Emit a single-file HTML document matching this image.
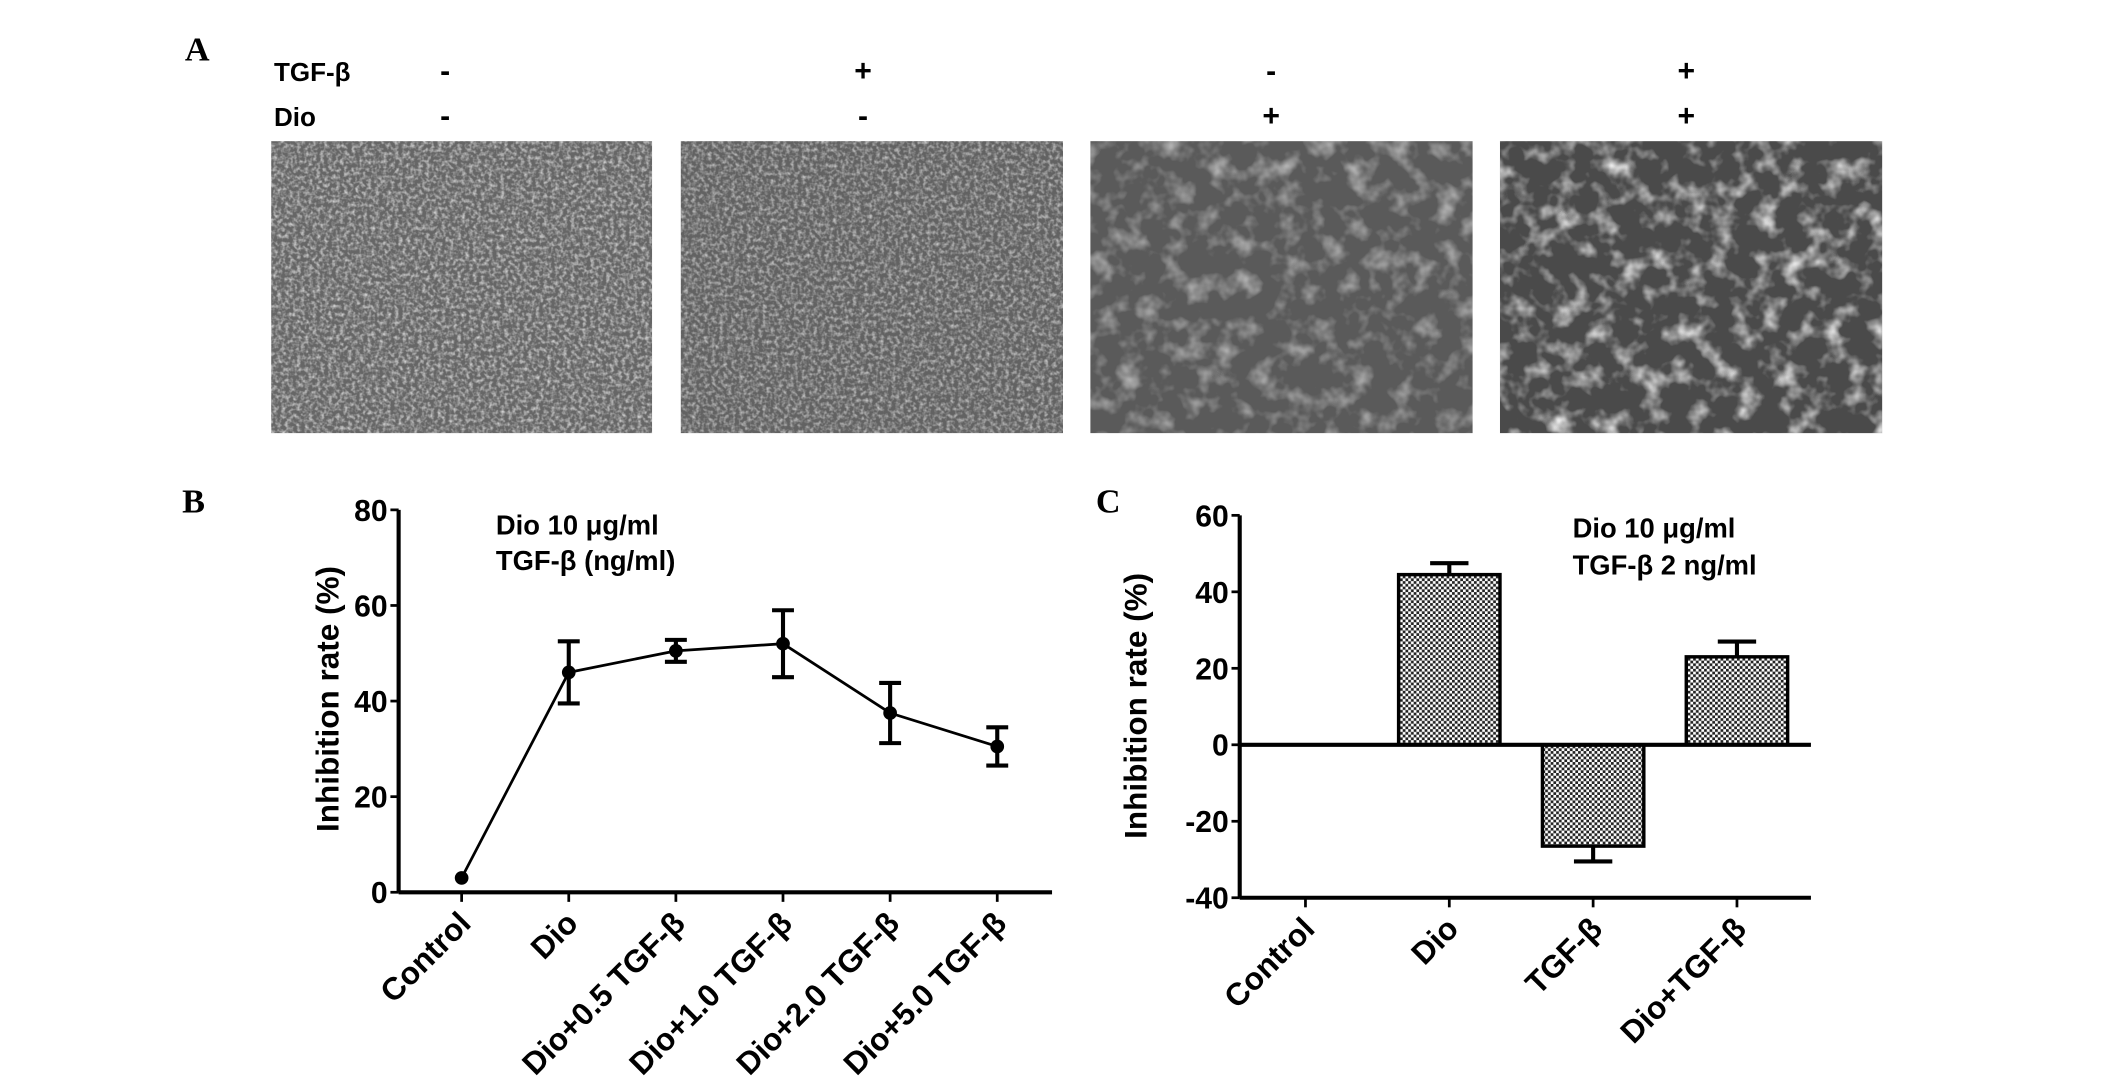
<!DOCTYPE html>
<html><head><meta charset="utf-8"><style>
html,body{margin:0;padding:0;background:#fff;}
svg{display:block;}
text{font-family:"Liberation Sans",sans-serif;font-weight:bold;fill:#000;}
.pl{font-family:"Liberation Serif",serif;font-size:25px;}
</style></head><body>
<svg id="fig" width="2126" height="1091" viewBox="0 0 1552 796" preserveAspectRatio="none" xmlns="http://www.w3.org/2000/svg">
<defs>
<pattern id="hatch" width="4" height="4" patternUnits="userSpaceOnUse">
<rect width="4" height="4" fill="#fff"/><rect width="2" height="2" fill="#222"/><rect x="2" y="2" width="2" height="2" fill="#222"/>
</pattern>
<filter id="tex1" x="0" y="0" width="1" height="1"><feTurbulence type="fractalNoise" baseFrequency="0.35" numOctaves="2" seed="3"/><feColorMatrix type="matrix" values="0 0 0 0 0.85  0 0 0 0 0.85  0 0 0 0 0.85  2 0 0 0 -0.8"/></filter>
<filter id="tex2" x="0" y="0" width="1" height="1"><feTurbulence type="fractalNoise" baseFrequency="0.06" numOctaves="3" seed="7"/><feColorMatrix type="matrix" values="0 0 0 0 0.85  0 0 0 0 0.85  0 0 0 0 0.85  2.5 0 0 0 -1.2"/></filter>
</defs>

<text class="pl" x="135" y="44">A</text>
<text x="200" y="59" font-size="19">TGF-β</text>
<text x="200" y="92" font-size="19">Dio</text>
<g font-size="22" text-anchor="middle">
<text x="325" y="59">-</text><text x="630" y="59">+</text><text x="928" y="59">-</text><text x="1231" y="59">+</text>
<text x="325" y="92">-</text><text x="630" y="92">-</text><text x="928" y="92">+</text><text x="1231" y="92">+</text>
</g>
<g><rect x="198" y="103" width="278" height="213" fill="#666"/><rect x="198" y="103" width="278" height="213" filter="url(#tex1)" opacity="0.8"/></g>
<g><rect x="497" y="103" width="279" height="213" fill="#626262"/><rect x="497" y="103" width="279" height="213" filter="url(#tex1)" opacity="0.7"/></g>
<g><rect x="796" y="103" width="279" height="213" fill="#5a5a5a"/><rect x="796" y="103" width="279" height="213" filter="url(#tex2)" opacity="0.6"/></g>
<g><rect x="1095" y="103" width="279" height="213" fill="#4a4a4a"/><rect x="1095" y="103" width="279" height="213" filter="url(#tex2)" opacity="1"/></g>

<text class="pl" x="133" y="374">B</text>
<text class="pl" x="800" y="374">C</text>
<g id="chartB"></g>
<g id="chartC"></g>
</svg>
<script>
const bCats=["Control","Dio","Dio+0.5 TGF-β","Dio+1.0 TGF-β","Dio+2.0 TGF-β","Dio+5.0 TGF-β"];
const bVals=[3,46,50.5,52,37.5,30.5];
const bErr=[0.8,6.5,2.3,7,6.3,4];
const bTicks=[0,20,40,60,80];
const cCats=["Control","Dio","TGF-β","Dio+TGF-β"];
const cVals=[0,44.5,-26.5,23];
const cErr=[0,3,4,4];
const cTicks=[-40,-20,0,20,40,60];
const NS="http://www.w3.org/2000/svg";
function mk(p,t,a){const e=document.createElementNS(NS,t);for(const k in a)e.setAttribute(k,a[k]);p.appendChild(e);return e;}
// Chart B
(function(){
const g=document.getElementById('chartB');
const x0=291,x1=768,yb=651,yt=372;
const y=v=>yb-(v-0)/(80-0)*(yb-yt);
const x=i=>337+i*78.2;
let e=mk(g,'line',{x1:x0,y1:yt,x2:x0,y2:yb,stroke:'#000','stroke-width':3});

e=mk(g,'line',{x1:x0,y1:yb,x2:x1,y2:yb,stroke:'#000','stroke-width':3});

bTicks.forEach(t=>{mk(g,'line',{x1:x0-6,y1:y(t),x2:x0,y2:y(t),stroke:'#000','stroke-width':2});
e=mk(g,'text',{x:x0-8,y:y(t)+8,'font-size':22,'text-anchor':'end'});e.textContent=t;
});
e=mk(g,'text',{x:0,y:0,'font-size':23,'text-anchor':'middle',transform:`translate(247,510) rotate(-90)`});e.textContent='Inhibition rate (%)';

e=mk(g,'text',{x:362,y:390,'font-size':20});e.textContent='Dio 10 μg/ml';

e=mk(g,'text',{x:362,y:416,'font-size':20});e.textContent='TGF-β (ng/ml)';

e=mk(g,'polyline',{points:bVals.map((v,i)=>x(i)+','+y(v)).join(' '),fill:'none',stroke:'#000','stroke-width':2});

bCats.forEach((c,i)=>{
mk(g,'line',{x1:x(i),y1:yb,x2:x(i),y2:yb+7,stroke:'#000','stroke-width':2});
if(bErr[i]>1){const eg=mk(g,'g',{stroke:'#000','stroke-width':3});

mk(eg,'line',{x1:x(i),y1:y(bVals[i]-bErr[i]),x2:x(i),y2:y(bVals[i]+bErr[i])});
mk(eg,'line',{x1:x(i)-8,y1:y(bVals[i]-bErr[i]),x2:x(i)+8,y2:y(bVals[i]-bErr[i])});
mk(eg,'line',{x1:x(i)-8,y1:y(bVals[i]+bErr[i]),x2:x(i)+8,y2:y(bVals[i]+bErr[i])});}
e=mk(g,'circle',{cx:x(i),cy:y(bVals[i]),r:5,fill:'#000'});

e=mk(g,'text',{x:0,y:0,'font-size':23,'text-anchor':'end',transform:`translate(${x(i)+8},${yb+24}) rotate(-45)`});e.textContent=c;

});
})();
// Chart C
(function(){
const g=document.getElementById('chartC');
const x0=905,x1=1322,yt=376,yb=655;
const y=v=>yb-(v+40)/100*(yb-yt);
const x=i=>953+i*105;
const bw=74;
cCats.forEach((c,i)=>{
const v=cVals[i];
if(v!==0){
const eg=mk(g,'g',{stroke:'#000','stroke-width':3});

const ye=y(v+(v>0?cErr[i]:-cErr[i]));
mk(eg,'line',{x1:x(i),y1:y(v),x2:x(i),y2:ye});
mk(eg,'line',{x1:x(i)-14,y1:ye,x2:x(i)+14,y2:ye});
const r=mk(g,'rect',{x:x(i)-bw/2,y:Math.min(y(v),y(0)),width:bw,height:Math.abs(y(v)-y(0)),fill:'url(#hatch)',stroke:'#000','stroke-width':2.5});

}
mk(g,'line',{x1:x(i),y1:yb,x2:x(i),y2:yb+7,stroke:'#000','stroke-width':2});
let e=mk(g,'text',{x:0,y:0,'font-size':23,'text-anchor':'end',transform:`translate(${x(i)+8},${yb+24}) rotate(-45)`});e.textContent=c;

});
let e=mk(g,'line',{x1:x0,y1:yt,x2:x0,y2:yb,stroke:'#000','stroke-width':3});

e=mk(g,'line',{x1:x0,y1:yb,x2:x1,y2:yb,stroke:'#000','stroke-width':3});

e=mk(g,'line',{x1:x0,y1:y(0),x2:x1,y2:y(0),stroke:'#000','stroke-width':3});

cTicks.forEach(t=>{mk(g,'line',{x1:x0-6,y1:y(t),x2:x0,y2:y(t),stroke:'#000','stroke-width':2});
e=mk(g,'text',{x:x0-8,y:y(t)+8,'font-size':22,'text-anchor':'end'});e.textContent=t;
});
e=mk(g,'text',{x:0,y:0,'font-size':23,'text-anchor':'middle',transform:`translate(837,515) rotate(-90)`});e.textContent='Inhibition rate (%)';

e=mk(g,'text',{x:1148,y:392,'font-size':20});e.textContent='Dio 10 μg/ml';

e=mk(g,'text',{x:1148,y:419,'font-size':20});e.textContent='TGF-β 2 ng/ml';

})();
</script>
</body></html>
